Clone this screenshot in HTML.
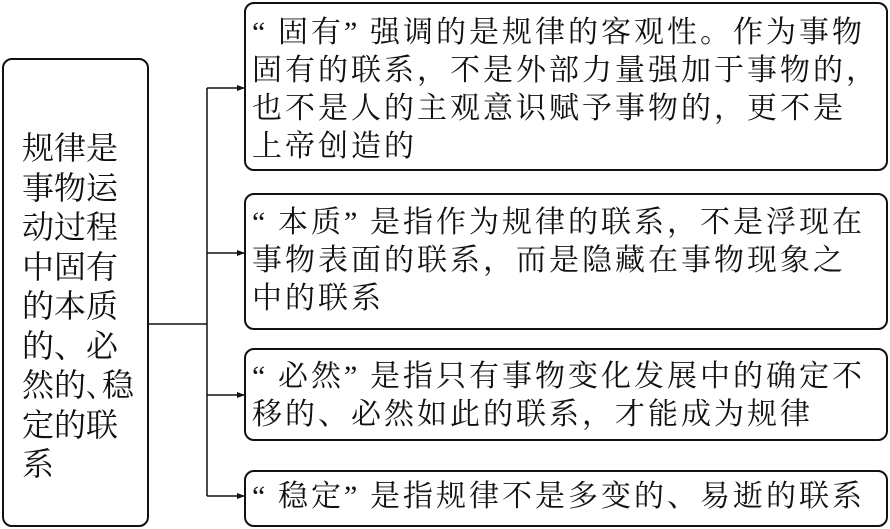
<!DOCTYPE html>
<html><head><meta charset="utf-8"><style>
body{margin:0;width:890px;height:529px;background:#fff;position:relative;overflow:hidden;font-family:"Liberation Serif","Noto Serif CJK SC",serif;color:#111}
.b{position:absolute;border:2px solid #111;border-radius:10px;box-sizing:border-box}
.t{position:absolute;font-size:30px;line-height:38px;white-space:nowrap;letter-spacing:3px}
.q{display:inline-block;width:26px}
</style></head><body>
<div class="b" style="left:2px;top:58px;width:147px;height:469px"></div>
<div class="t" style="left:22px;top:129px;font-size:32px;line-height:39.5px;letter-spacing:0">规律是<br>事物运<br>动过程<br>中固有<br>的本质<br>的、必<br>然的､稳<br>定的联<br>系</div>
<svg style="position:absolute;left:0;top:0" width="890" height="529">
<g stroke="#111" stroke-width="1.5" fill="none">
<line x1="149" y1="324" x2="207" y2="324"/>
<line x1="207" y1="88" x2="207" y2="496"/>
<line x1="207" y1="88" x2="244" y2="88"/>
<line x1="207" y1="253" x2="244" y2="253"/>
<line x1="207" y1="395" x2="244" y2="395"/>
<line x1="207" y1="496" x2="244" y2="496"/>
</g>
<g fill="#111">
<polygon points="245,88 237,85 237,91"/>
<polygon points="245,253 237,250 237,256"/>
<polygon points="245,395 237,392 237,398"/>
<polygon points="245,496 237,493 237,499"/>
</g>
</svg>
<div class="b" style="left:244px;top:2px;width:644px;height:169px"></div>
<div class="t" style="left:252px;top:14px"><span class="q">“</span>固有<span class="q">”</span>强调的是规律的客观性。作为事物<br>固有的联系，不是外部力量强加于事物的，<br>也不是人的主观意识赋予事物的，更不是<br>上帝创造的</div>
<div class="b" style="left:244px;top:193px;width:644px;height:137px"></div>
<div class="t" style="left:252px;top:204px"><span class="q">“</span>本质<span class="q">”</span>是指作为规律的联系，不是浮现在<br>事物表面的联系，而是隐藏在事物现象之<br>中的联系</div>
<div class="b" style="left:244px;top:348px;width:644px;height:93px"></div>
<div class="t" style="left:252px;top:358px"><span class="q">“</span>必然<span class="q">”</span>是指只有事物变化发展中的确定不<br>移的、必然如此的联系，才能成为规律</div>
<div class="b" style="left:244px;top:470px;width:644px;height:57px"></div>
<div class="t" style="left:252px;top:478px"><span class="q">“</span>稳定<span class="q">”</span>是指规律不是多变的、易逝的联系</div>
</body></html>
